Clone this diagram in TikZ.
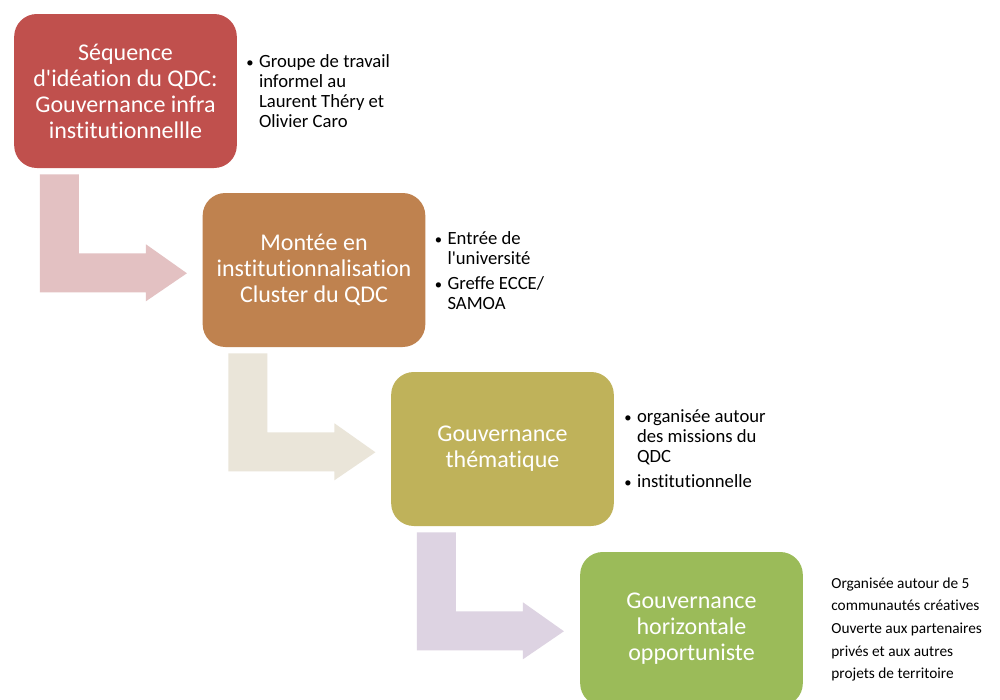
\documentclass[tikz,border=0pt]{standalone}
\usepackage{fontspec}
\setmainfont{Carlito}[Ligatures={TeXOff,CommonOff}]
\usetikzlibrary{positioning,calc}
\definecolor{boxRed}{RGB}{192,80,77}
\definecolor{boxBrown}{RGB}{191,130,79}
\definecolor{boxOlive}{RGB}{191,178,90}
\definecolor{boxGreen}{RGB}{155,187,89}
\definecolor{arrPink}{RGB}{227,193,194}
\definecolor{arrBeige}{RGB}{234,229,217}
\definecolor{arrLilac}{RGB}{221,211,226}
\tikzset{
	phase/.style={
		rounded corners=17pt,
		align=center,
		inner sep=2pt,
		minimum width=167pt,
		minimum height=115.5pt,
		text=white,
		font=\fontsize{18}{19.5}\selectfont
	},
	note/.style={
		anchor=west,
		align=left,
		inner sep=0pt,
		font=\fontsize{14}{15.2}\selectfont
	}
}
\newcommand{\bul}{{\fontsize{11}{11}\selectfont\textbullet}\kern4pt\relax}

\begin{document}
\begin{tikzpicture}[x=0.75pt, y=-0.75pt]
		\clip (0,0) rectangle (1000,700);
		\fill[white] (0,0) rectangle (1000,700);
		\node[phase, fill=boxRed] (b1) at (125.5,91) {Séquence\\d'idéation du QDC:\\Gouvernance infra\\institutionnellle};
		\node[phase, fill=boxBrown] (b2) at (314,270) {Montée en\\institutionnalisation\\Cluster du QDC};
		\node[phase, fill=boxOlive] (b3) at (502.5,449) {Gouvernance\\thématique};
		\node[phase, fill=boxGreen] (b4) at (691.5,629) {Gouvernance\\horizontale\\opportuniste};
		% bent arrows between the phases
		\foreach \a/\c in {b1/arrPink, b2/arrBeige, b3/arrLilac}
			\fill[\c] ($(\a.south west)+(26,6)$) -- ++(39,0) -- ++(0,79) -- ++(67,0) -- ++(0,-9)
				-- ++(41,29) -- ++(-41,28) -- ++(0,-9) -- ++(-106,0) -- cycle;
		% side notes
		\node[note] (n1) at ($(b1.east)+(9,2.5)$) {\begin{tabular}{@{}l@{}l@{}}
			\bul & Groupe de travail\\ & informel au\\ & Laurent Théry et\\ & Olivier Caro\end{tabular}};
		\node[note] (n2) at ($(b2.east)+(9,3)$) {\begin{tabular}{@{}l@{}l@{}}
			\bul & Entrée de\\ & l'université\\[3.5pt] \bul & Greffe ECCE/\\ & SAMOA\end{tabular}};
		\node[note] (n3) at ($(b3.east)+(10,2)$) {\begin{tabular}{@{}l@{}l@{}}
			\bul & organisée autour\\ & des missions du\\ & QDC\\[3.5pt] \bul & institutionnelle\end{tabular}};
		\node[note, font=\fontsize{11.5}{17}\selectfont] (n4) at ($(b4.east)+(28,0.5)$)
			{Organisée autour de 5\\communautés créatives\\Ouverte aux partenaires\\privés et aux autres\\projets de territoire};
	\end{tikzpicture}
\end{document}
